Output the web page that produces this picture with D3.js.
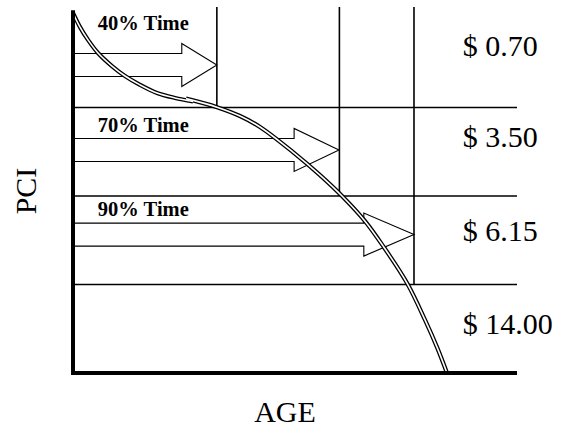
<!DOCTYPE html>
<html>
<head>
<meta charset="utf-8">
<script src="https://cdn.jsdelivr.net/npm/d3@7"></script>
<style>
  html, body { margin: 0; padding: 0; background: #fff; }
  svg { display: block; }
</style>
</head>
<body>
<svg id="chart" width="561" height="427"></svg>
<script>
// ---- data ----
const axisTitles = { x: "AGE", y: "PCI" };
// PCI condition levels dividing the bands
const bandLevels = [75, 50, 25];
// age at which each band's divider stands (40%, 70%, 90% time)
const dividerAges = [32.4, 60, 76.8];
const timeLabels = ["40% Time", "70% Time", "90% Time"];
const timeLabelPci = [97.0, 68.1, 44.4];
// arrows: PCI of centre line, age of head start, age of tip
const arrowPci = [87.0, 63.0, 39.1];
const arrowHeadAge = [24.5, 49.8, 65.5];
const arrowTipAge = [32.4, 59.9, 76.8];
// repair cost per band
const prices = ["$ 0.70", "$ 3.50", "$ 6.15", "$ 14.00"];
const pricePci = [89.5, 63.8, 37.3, 11.0];
// deterioration curve (two joined pieces)
const curveAgeA = [0, 1.58, 3.38, 5.63, 8.78, 11.71, 15.09, 18.92, 22.97, 27.03];
const curvePciA = [101.7, 97.7, 94.1, 90.4, 86.7, 83.9, 81.4, 79.1, 77.7, 76.7];
const curveAgeB = [25.45, 32.43, 37.61, 42.12, 49.55, 55.63, 60.59, 65.77, 69.82, 75.23, 79.28, 81.98, 84.23];
const curvePciB = [77.5, 75.1, 72.6, 69.5, 62.4, 55.9, 50.0, 42.9, 35.9, 25.4, 15.0, 7.3, 0];

// ---- drawing ----
const svg = d3.select("#chart");
const x = d3.scaleLinear().domain([0, 100]).range([73, 517]);
const y = d3.scaleLinear().domain([0, 100]).range([373, 19]);
const font = "'Times New Roman', 'Liberation Serif', serif";

// band lines
svg.selectAll("line.band").data(bandLevels).join("line")
  .attr("class", "band")
  .attr("x1", x(0)).attr("x2", x(100))
  .attr("y1", d => y(d)).attr("y2", d => y(d))
  .attr("stroke", "#000").attr("stroke-width", 1.3);

// divider lines
svg.selectAll("line.div").data(dividerAges).join("line")
  .attr("class", "div")
  .attr("x1", d => x(d)).attr("x2", d => x(d))
  .attr("y1", y(103.4)).attr("y2", (d, i) => y(bandLevels[i]))
  .attr("stroke", "#000").attr("stroke-width", 1.6);

// arrows
const sh = 11.5, hh = 21.5;
svg.selectAll("path.arrow").data(arrowPci).join("path")
  .attr("class", "arrow")
  .attr("d", (d, i) => {
    const yc = y(d), x0 = x(0), xh = x(arrowHeadAge[i]), xt = x(arrowTipAge[i]);
    return `M${x0},${yc - sh}L${xh},${yc - sh}L${xh},${yc - hh}L${xt},${yc}` +
           `L${xh},${yc + hh}L${xh},${yc + sh}L${x0},${yc + sh}`;
  })
  .attr("fill", "none").attr("stroke", "#000").attr("stroke-width", 1.1);

// time labels
svg.selectAll("text.tl").data(timeLabels).join("text")
  .attr("class", "tl")
  .attr("x", x(5.6)).attr("y", (d, i) => y(timeLabelPci[i]))
  .attr("font-family", font).attr("font-weight", "bold").attr("font-size", 20.5)
  .text(d => d);

// curve (double line)
const line = d3.line().curve(d3.curveCatmullRom.alpha(0.5));
const ptsA = curveAgeA.map((a, i) => [x(a), y(curvePciA[i])]);
const ptsB = curveAgeB.map((a, i) => [x(a), y(curvePciB[i])]);
[ptsA, ptsB].forEach(p => {
  svg.append("path").attr("d", line(p)).attr("fill", "none")
    .attr("stroke", "#000").attr("stroke-width", 4.2);
});
[ptsA, ptsB].forEach(p => {
  svg.append("path").attr("d", line(p)).attr("fill", "none")
    .attr("stroke", "#fff").attr("stroke-width", 1.6);
});

// axes
svg.append("line").attr("x1", x(0)).attr("x2", x(0))
  .attr("y1", y(102.5)).attr("y2", y(0) + 2)
  .attr("stroke", "#000").attr("stroke-width", 4);
svg.append("line").attr("x1", x(0) - 2).attr("x2", x(100))
  .attr("y1", y(0)).attr("y2", y(0))
  .attr("stroke", "#000").attr("stroke-width", 4);

// prices
svg.selectAll("text.price").data(prices).join("text")
  .attr("class", "price")
  .attr("x", x(87.8)).attr("y", (d, i) => y(pricePci[i]))
  .attr("font-family", font).attr("font-size", 30)
  .text(d => d);

// axis titles
svg.append("text").attr("x", 285).attr("y", 422)
  .attr("text-anchor", "middle").attr("font-family", font).attr("font-size", 30)
  .text(axisTitles.x);
svg.append("text").attr("transform", "translate(36,191) rotate(-90)")
  .attr("text-anchor", "middle").attr("font-family", font).attr("font-size", 30)
  .text(axisTitles.y);
</script>
</body>
</html>
